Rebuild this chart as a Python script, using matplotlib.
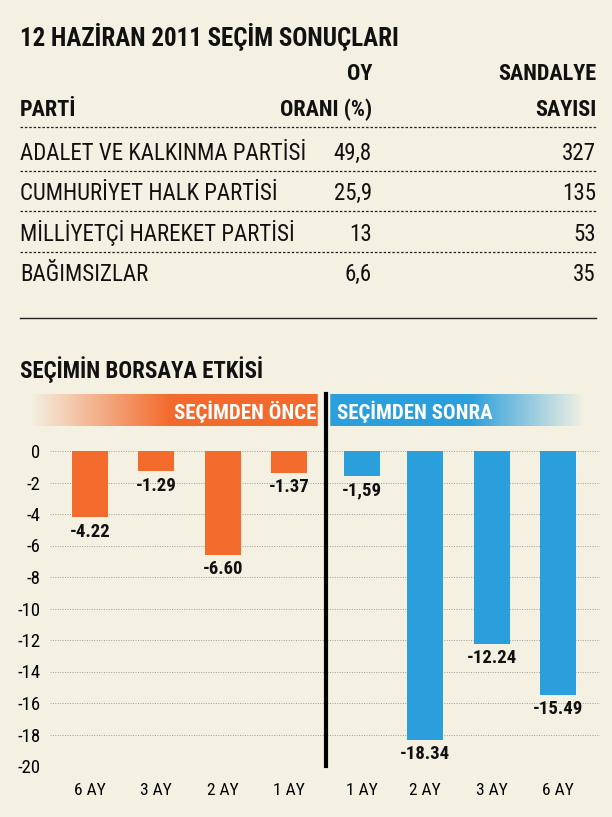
import numpy as np
import matplotlib
matplotlib.use("Agg")
import matplotlib.pyplot as plt
from matplotlib import font_manager
from matplotlib.lines import Line2D

# --- data -------------------------------------------------------------
parties = [
    "ADALET VE KALKINMA PARTİSİ",
    "CUMHURİYET HALK PARTİSİ",
    "MİLLİYETÇİ HAREKET PARTİSİ",
    "BAĞIMSIZLAR",
]
vote_share = ["49,8", "25,9", "13", "6,6"]
seats = ["327", "135", "53", "35"]

periods = ["6 AY", "3 AY", "2 AY", "1 AY", "1 AY", "2 AY", "3 AY", "6 AY"]
change = [-4.22, -1.29, -6.60, -1.37, -1.59, -18.34, -12.24, -15.49]
change_labels = ["-4.22", "-1.29", "-6.60", "-1.37", "-1,59", "-18.34", "-12.24", "-15.49"]
phase = ["once"] * 4 + ["sonra"] * 4
y_ticks = list(range(0, -21, -2))

# --- style ------------------------------------------------------------
BG = "#f4f1e3"
ORANGE = "#f26a2c"
BLUE = "#2b9fdb"
W, H = 612, 817

available = {f.name for f in font_manager.fontManager.ttflist}
narrow = "DejaVu Sans"
for cand in ["Liberation Sans Narrow", "Roboto Condensed", "Open Sans Condensed", "Liberation Sans"]:
    if cand in available:
        narrow = cand
        break
plt.rcParams["font.family"] = [narrow, "DejaVu Sans"]

fig = plt.figure(figsize=(W / 100, H / 100), dpi=100, facecolor=BG)


def fy(py):
    return 1 - py / H


def fx(px):
    return px / W


def txt(px, py, s, size, weight="normal", ha="left", color="#111111"):
    fig.text(fx(px), fy(py), s, fontsize=size, fontweight=weight, ha=ha,
             va="baseline", color=color)


def hline(py, x0=20, x1=596, style=(0, (2, 1.5)), lw=0.9):
    fig.add_artist(Line2D([fx(x0), fx(x1)], [fy(py), fy(py)], color="#222222",
                          lw=lw, linestyle=style, transform=fig.transFigure))


# --- results table ----------------------------------------------------
txt(20, 46, "12 HAZİRAN 2011 SEÇİM SONUÇLARI", 18, "bold")
txt(372, 80, "OY", 16, "bold", ha="right")
txt(596, 80, "SANDALYE", 16, "bold", ha="right")
txt(20, 116, "PARTİ", 16, "bold")
txt(372, 116, "ORANI (%)", 16, "bold", ha="right")
txt(596, 116, "SAYISI", 16, "bold", ha="right")
hline(127)

row_base = [160, 200, 241, 281]
for i, (p, v, s) in enumerate(zip(parties, vote_share, seats)):
    txt(20, row_base[i], p, 16.5)
    txt(372, row_base[i], v, 16.5, ha="right")
    txt(596, row_base[i], s, 16.5, ha="right")
    if i < len(parties) - 1:
        hline(row_base[i] + 11)

hline(318, style="-", lw=1.0)
txt(20, 378, "SEÇİMİN BORSAYA ETKİSİ", 16.5, "bold")

# --- bar chart --------------------------------------------------------
ax_left, ax_right = 50, 600
ax_top, ax_bot = 451, 766
ax = fig.add_axes([fx(ax_left), fy(ax_bot), fx(ax_right) - fx(ax_left),
                   (ax_bot - ax_top) / H])
ax.set_facecolor("none")

xpos = np.array([0, 1, 2, 3, 4.1, 5.05, 6.05, 7.05])
colors = [ORANGE if ph == "once" else BLUE for ph in phase]
ax.bar(xpos, change, width=0.54, color=colors, zorder=2)

for x, v, lab in zip(xpos, change, change_labels):
    ax.text(x, v - 0.35, lab, ha="center", va="top", fontsize=13.5,
            fontweight="bold", color="#111111", zorder=3)

ax.set_xlim(-0.6, 7.68)
ax.set_ylim(-20, 0)
ax.set_yticks(y_ticks)
ax.set_yticklabels([str(t) for t in y_ticks], fontsize=13.5)
ax.set_xticks(xpos)
ax.set_xticklabels(periods, fontsize=12.5)
ax.tick_params(length=0, pad=7)
ax.tick_params(axis="x", pad=12)
for sp in ax.spines.values():
    sp.set_visible(False)
ax.grid(axis="y", color="#9a9a9a", linestyle=(0, (1, 1.5)), lw=0.7, zorder=0)

# header band with gradients
band = fig.add_axes([fx(20), fy(426), fx(600) - fx(20), 32 / H])
band.set_xlim(20, 600)
band.set_ylim(0, 1)
band.axis("off")
xs = np.linspace(20, 600, 600)
org = np.array(matplotlib.colors.to_rgb(ORANGE))
blu = np.array(matplotlib.colors.to_rgb(BLUE))
bg = np.array(matplotlib.colors.to_rgb(BG))
img = np.zeros((1, len(xs), 3))
for j, xv in enumerate(xs):
    if xv < 318:
        a = np.clip((xv - 30) / (170 - 30), 0, 1)
        img[0, j] = bg * (1 - a) + org * a
    elif xv < 330:
        img[0, j] = bg
    else:
        a = np.clip((585 - xv) / (585 - 470), 0, 1)
        img[0, j] = bg * (1 - a) + blu * a
band.imshow(img, aspect="auto", extent=(20, 600, 0, 1), interpolation="bilinear")
band.text(316, 0.45, "SEÇİMDEN ÖNCE", ha="right", va="center", color="white",
          fontsize=15, fontweight="bold")
band.text(337, 0.45, "SEÇİMDEN SONRA", ha="left", va="center", color="white",
          fontsize=15, fontweight="bold")

# divider between before / after
fig.add_artist(Line2D([fx(325.5), fx(325.5)], [fy(394), fy(766)], color="black",
                      lw=3, transform=fig.transFigure))

fig.savefig("out.png", dpi=100, facecolor=BG)
